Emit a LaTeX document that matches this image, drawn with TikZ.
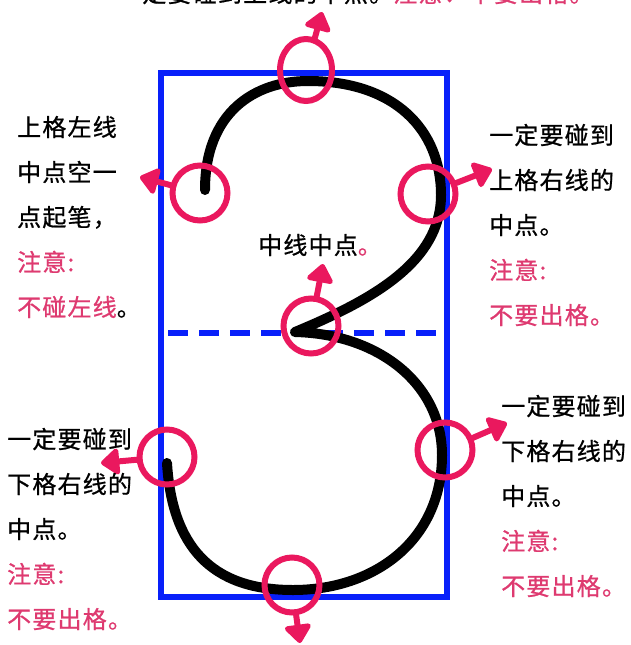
\documentclass[tikz,border=0pt]{standalone}
\usepackage{fontspec}
\usepackage{xcolor}
\setmainfont{Noto Sans CJK SC}
\newfontfamily\cjk[LetterSpace=5,FakeBold=0.8]{Noto Sans CJK SC}
\usetikzlibrary{positioning}
\usetikzlibrary{arrows.meta}
\usetikzlibrary{shapes.geometric}
\definecolor{gridblue}{RGB}{8,32,250}
\definecolor{ringpink}{RGB}{234,24,94}
\definecolor{notepink}{RGB}{222,58,112}
\pgfdeclarelayer{gridlayer}
\pgfdeclarelayer{strokelayer}
\pgfsetlayers{gridlayer,strokelayer,main}

\begin{document}
\begin{tikzpicture}[x=1pt, y=-1pt,
    ring/.style={circle, draw=ringpink, line width=6pt, minimum size=55pt, inner sep=0pt},
    pointer/.style={ringpink, line width=6pt, line cap=round, -{Triangle[length=20pt, width=30pt, round]}},
    note/.style={anchor=west, align=left, inner sep=0pt, font=\cjk\fontsize{24}{45}\selectfont},
    pen/.style={line width=10pt, line cap=round, line join=round},
    frame/.style={gridblue, line width=5.5pt}]
  \useasboundingbox (0,0) rectangle (630,645);
  \begin{pgfonlayer}{gridlayer}
    \draw[frame] (161,73) rectangle (447,597);
    \draw[frame, dash pattern=on 20pt off 11pt] (168,333) -- (447,333);
  \end{pgfonlayer}
  \begin{pgfonlayer}{strokelayer}
    \draw[pen] (205,190) .. controls (205,112) and (255,81) .. (308,81)
      .. controls (395,81) and (441,130) .. (441,195)
      .. controls (441,262) and (372,300) .. (295,332)
      .. controls (380,334) and (442,385) .. (442,455)
      .. controls (442,540) and (375,590) .. (293,590)
      .. controls (210,590) and (172,545) .. (167,463);
  \end{pgfonlayer}
  \node [ring, ellipse, minimum width=52pt, minimum height=62pt] (0) at (306,70) {};
  \node [ring] (1) at (200,193) {};
  \node [ring] (2) at (428,194) {};
  \node [ring] (3) at (311,326) {};
  \node [ring] (4) at (167,457) {};
  \node [ring] (5) at (445,450) {};
  \node [ring] (6) at (292,585) {};
  \coordinate (7) at (322,12);
  \coordinate (8) at (140,177);
  \coordinate (9) at (492,169);
  \coordinate (10) at (323,264);
  \coordinate (11) at (101,463);
  \coordinate (12) at (507,423);
  \coordinate (13) at (300,643);
  \draw [pointer] (0) to (7);
  \draw [pointer] (1) to (8);
  \draw [pointer] (2) to (9);
  \draw [pointer] (3) to (10);
  \draw [pointer] (4) to (11);
  \draw [pointer] (5) to (12);
  \draw [pointer] (6) to (13);
  \node [note] (20) at (17,217) {上格左线\\中点空一\\点起笔，\\\textcolor{notepink}{注意:}\\\textcolor{notepink}{不碰左线}。};
  \node [note] (21) at (489,225) {一定要碰到\\上格右线的\\中点。\\\textcolor{notepink}{注意:}\\\textcolor{notepink}{不要出格。}};
  \node [note] (22) at (7,529) {一定要碰到\\下格右线的\\中点。\\\textcolor{notepink}{注意:}\\\textcolor{notepink}{不要出格。}};
  \node [note] (23) at (501,496) {一定要碰到\\下格右线的\\中点。\\\textcolor{notepink}{注意:}\\\textcolor{notepink}{不要出格。}};
  \node [note] (24) at (258,245) {中线中点\textcolor{notepink}{。}};
  \node [note] (25) at (117,-7) {一定要碰到上线的中点。\textcolor{notepink}{注意：不要出格。}};
\end{tikzpicture}
\end{document}
